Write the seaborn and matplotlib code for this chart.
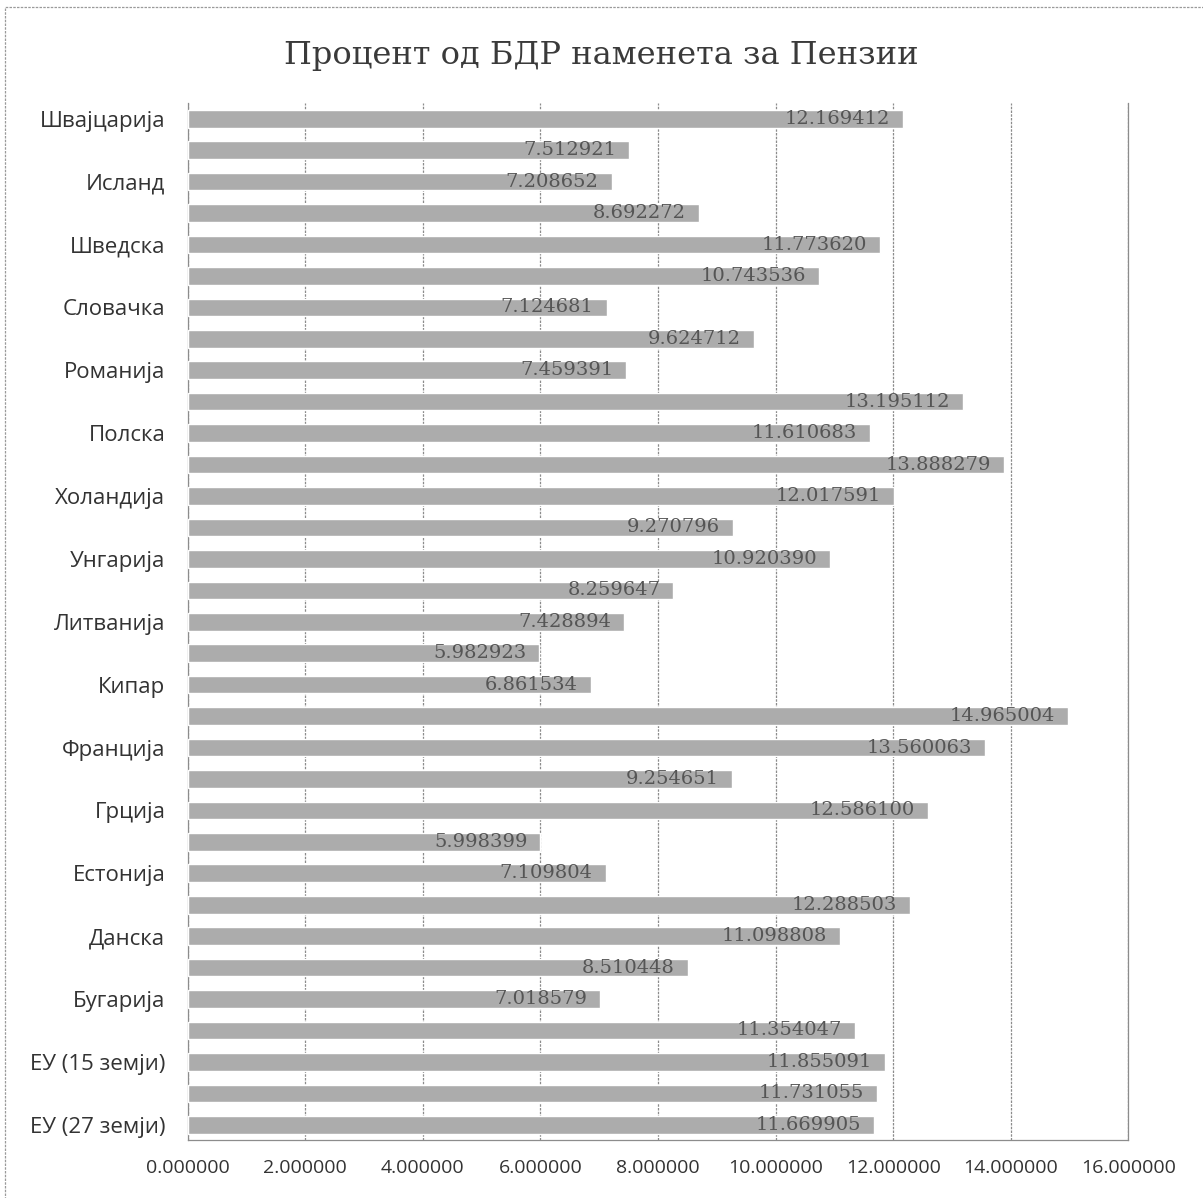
import matplotlib
matplotlib.use("Agg")
import matplotlib.pyplot as plt
import seaborn as sns
import pandas as pd
from matplotlib.patches import Rectangle

# Categories from top to bottom (every other one is labelled on the axis)
categories = ["Швајцарија", "Норвешка", "Исланд", "Велика Британија", "Шведска",
              "Финска", "Словачка", "Словенија", "Романија", "Португалија",
              "Полска", "Австрија", "Холандија", "Малта", "Унгарија",
              "Луксембург", "Литванија", "Летонија", "Кипар", "Италија",
              "Франција", "Шпанија", "Грција", "Ирска", "Естонија",
              "Германија", "Данска", "Чешка", "Бугарија", "Белгија",
              "ЕУ (15 земји)", "ЕУ (25 земји)", "ЕУ (27 земји)"]
values = [12.169412, 7.512921, 7.208652, 8.692272, 11.773620,
          10.743536, 7.124681, 9.624712, 7.459391, 13.195112,
          11.610683, 13.888279, 12.017591, 9.270796, 10.920390,
          8.259647, 7.428894, 5.982923, 6.861534, 14.965004,
          13.560063, 9.254651, 12.586100, 5.998399, 7.109804,
          12.288503, 11.098808, 8.510448, 7.018579, 11.354047,
          11.855091, 11.731055, 11.669905]
shown_labels = ["Швајцарија", "Исланд", "Шведска", "Словачка", "Романија",
                "Полска", "Холандија", "Унгарија", "Литванија", "Кипар",
                "Франција", "Грција", "Естонија", "Данска", "Бугарија",
                "ЕУ (15 земји)", "ЕУ (27 земји)"]
x_ticks = [0, 2, 4, 6, 8, 10, 12, 14, 16]
title = "Процент од БДР наменета за Пензии"

df = pd.DataFrame({"cat": categories, "val": values})

sns.set_theme(style="white")
plt.rcParams["font.family"] = ["Open Sans", "DejaVu Sans"]

fig = plt.figure(figsize=(12.03, 11.98), dpi=100)
ax = fig.add_axes([0.156, 0.048, 0.782, 0.866])

sns.barplot(data=df, x="val", y="cat", order=categories, color="#acacac",
            width=0.56, saturation=1, ax=ax, zorder=3)

ax.set_xlim(0, 16)
ax.set_xticks(x_ticks)
ax.set_xticklabels([f"{t:.6f}" for t in x_ticks], fontsize=14, color="#333333")
ax.tick_params(axis="x", pad=13, length=0)
ax.tick_params(axis="y", length=0, pad=16)

ypos = [categories.index(c) for c in shown_labels]
ax.set_yticks(ypos)
ax.set_yticklabels(shown_labels, fontsize=16, color="#333333")
ax.set_xlabel("")
ax.set_ylabel("")

ax.grid(axis="x", color="#8c8c8c", linewidth=0.9, linestyle=(0, (2, 1)), zorder=0)
ax.spines["top"].set_visible(False)
for s in ["left", "bottom", "right"]:
    ax.spines[s].set_color("#8c8c8c")
    ax.spines[s].set_linewidth(0.9)
ax.spines["right"].set_linestyle((0, (2, 1)))

for i, v in enumerate(values):
    ax.text(v - 0.22, i, f"{v:.6f}", ha="right", va="center", fontsize=14,
            color="#555555", family=["DejaVu Serif"], zorder=4)

fig.text(0.5, 0.954, title, ha="center", va="center", fontsize=23,
         color="#3a3a3a", family=["DejaVu Serif"])

fig.patches.append(Rectangle((0.004, -0.01), 1.2, 1.004, transform=fig.transFigure,
                             fill=False, edgecolor="#9a9a9a", linewidth=0.9,
                             linestyle=(0, (2, 1))))

fig.savefig("out.png", dpi=100)
